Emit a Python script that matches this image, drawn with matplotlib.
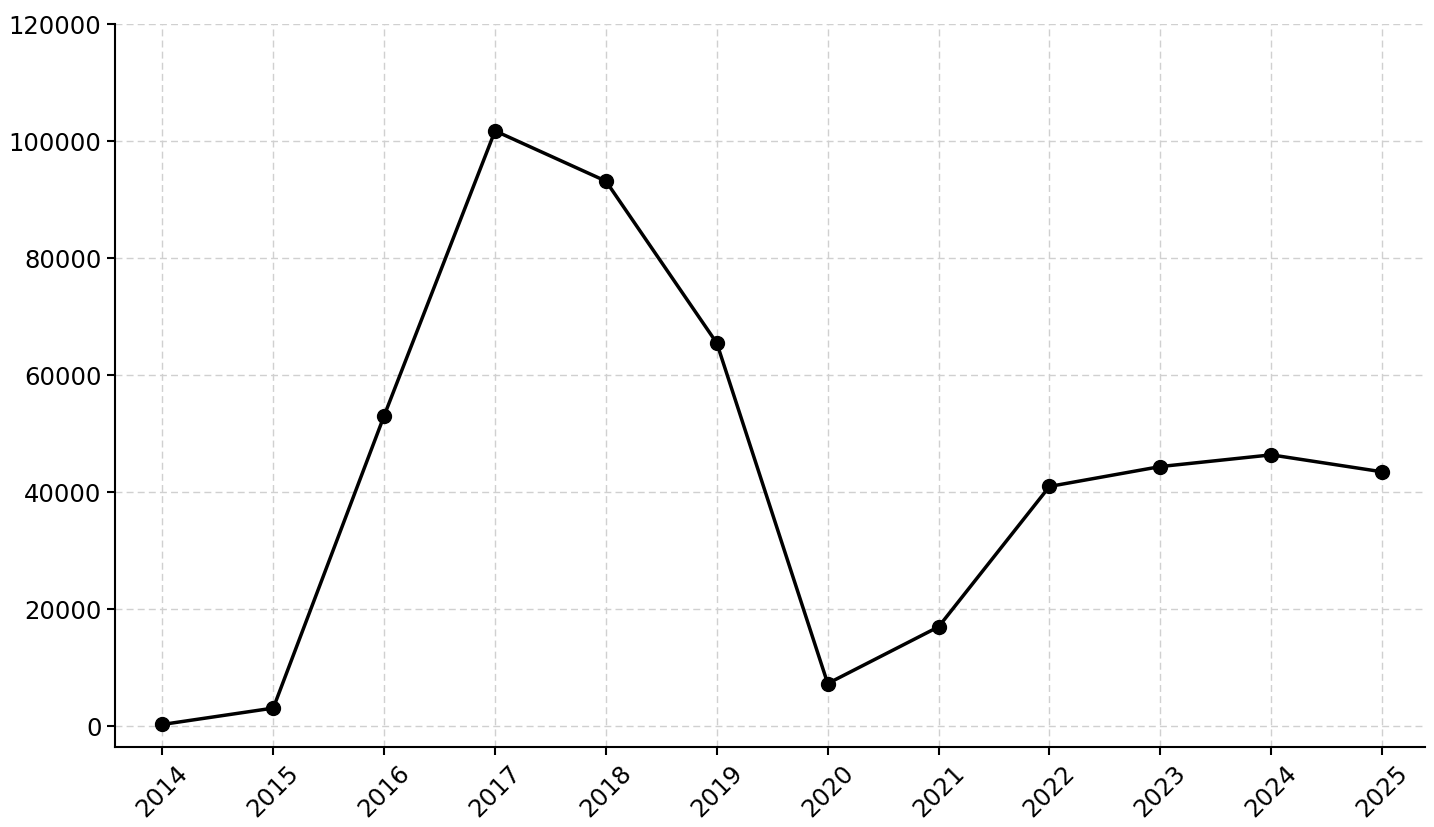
import numpy as np
import matplotlib.pyplot as plt

years = [2014, 2015, 2016, 2017, 2018, 2019, 2020, 2021, 2022, 2023, 2024, 2025]
values = [200, 3000, 53000, 101700, 93100, 65400, 7200, 16900, 40900, 44300, 46300, 43400]
yticks = [0, 20000, 40000, 60000, 80000, 100000, 120000]

fig = plt.figure(figsize=(14.34, 8.28), dpi=100)
ax = fig.add_axes([0.080, 0.097, 0.914, 0.873])
ax.plot(years, values, color='black', linewidth=2.5, marker='o', markersize=10)
ax.grid(True, linestyle=(0, (5, 3)), color='#d0d0d0', linewidth=1)
ax.set_axisbelow(True)
ax.set_xticks(years)
ax.set_xticklabels([str(y) for y in years], rotation=45, fontsize=17.5)
ax.set_yticks(yticks)
ax.set_yticklabels([str(v) for v in yticks], fontsize=17.5)
ax.set_xlim(2013.57, 2025.39)
ax.set_ylim(-3600, 120000)
for side in ['top', 'right']:
    ax.spines[side].set_visible(False)
for side in ['left', 'bottom']:
    ax.spines[side].set_linewidth(1.5)
ax.tick_params(width=1.5, length=6)
fig.savefig('out.png', dpi=100)
